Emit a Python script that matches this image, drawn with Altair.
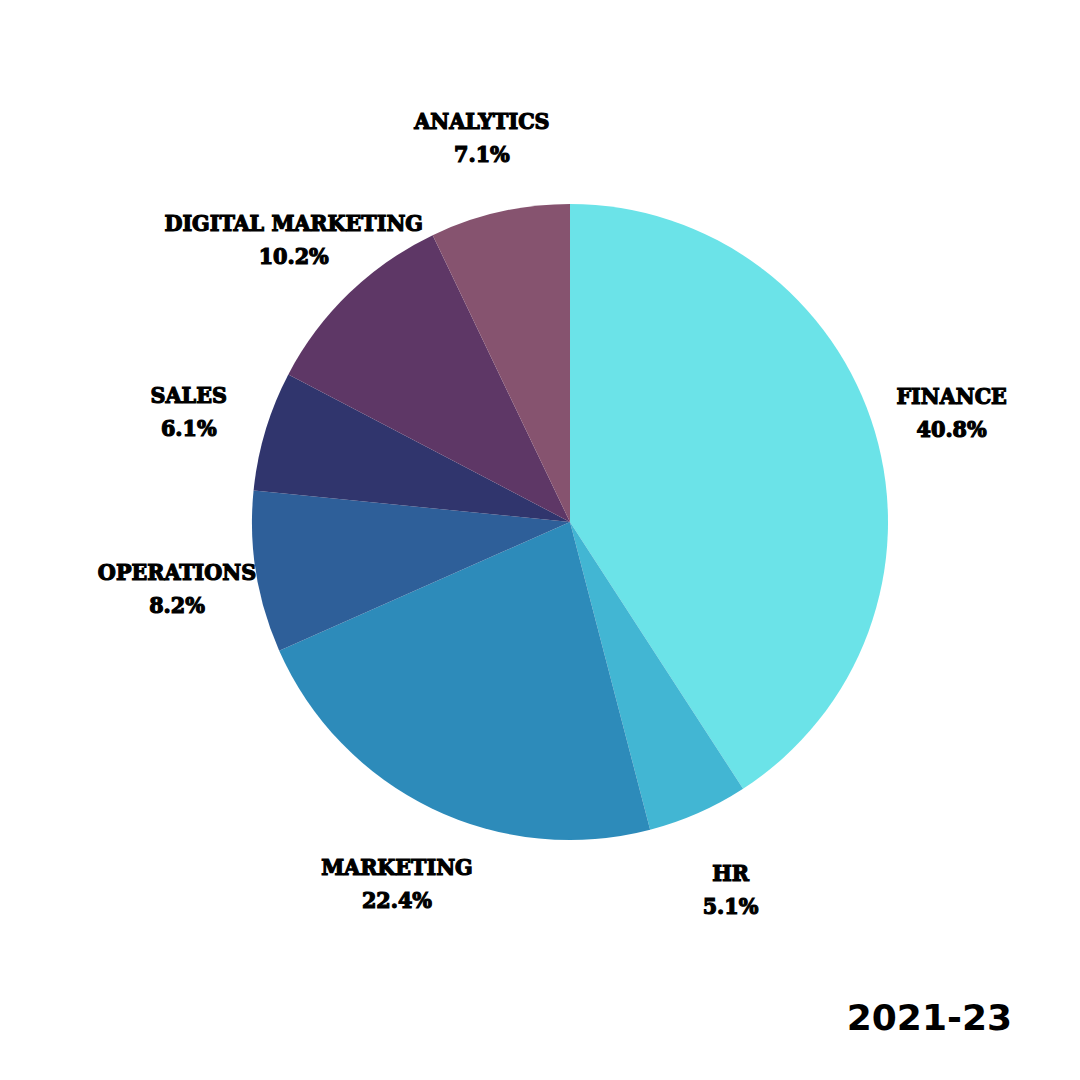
import altair as alt
import pandas as pd

categories = ["FINANCE", "HR", "MARKETING", "OPERATIONS", "SALES", "DIGITAL MARKETING", "ANALYTICS"]
shares = [40.8, 5.1, 22.4, 8.2, 6.1, 10.2, 7.1]
colors = ["#6BE3E8", "#42B6D3", "#2D8BBA", "#2E5F99", "#30356D", "#5E3766", "#86536F"]
period = "2021-23"

df = pd.DataFrame({
    "category": categories,
    "share": shares,
    "order": list(range(len(categories))),
    "label": [f"{c}\n{v:.1f}%" for c, v in zip(categories, shares)],
})

base = alt.Chart(df).encode(
    theta=alt.Theta("share:Q", stack=True),
    order=alt.Order("order:Q"),
)

pie = base.mark_arc(outerRadius=318, stroke=None).encode(
    color=alt.Color("category:N", scale=alt.Scale(domain=categories, range=colors), legend=None)
)

labels = base.mark_text(
    radius=398,
    dy=-12,
    lineBreak="\n",
    font="DejaVu Serif Condensed",
    fontWeight="bold",
    fontSize=23,
    lineHeight=33,
    color="#000000",
    stroke="#000000",
    strokeWidth=1.2,
    align="center",
    baseline="middle",
).encode(text="label:N")

chart = (
    (pie + labels)
    .properties(
        width=884,
        height=956,
        padding={"left": 120, "top": 36, "right": 50, "bottom": 70},
        autosize=alt.AutoSizeParams(type="none"),
        title=alt.TitleParams(
            text=period,
            orient="bottom",
            anchor="end",
            font="DejaVu Sans",
            fontWeight="bold",
            fontSize=36,
            color="#000000",
            offset=2,
        ),
    )
    .configure_view(stroke=None)
    .configure(background="#FFFFFF")
)

chart.save("out.html", embed_options={"renderer": "svg", "actions": False})
